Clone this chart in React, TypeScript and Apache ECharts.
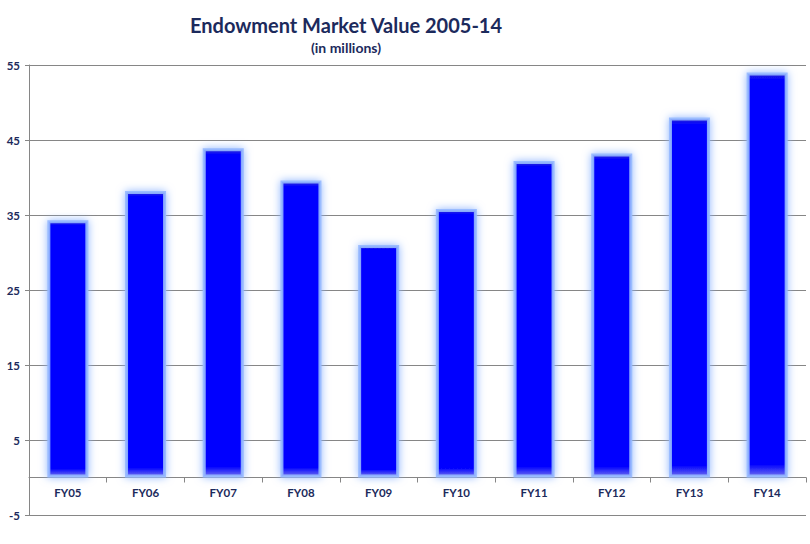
import React, { useEffect, useRef } from "react";
import * as echarts from "echarts";

const categories = ["FY05", "FY06", "FY07", "FY08", "FY09", "FY10", "FY11", "FY12", "FY13", "FY14"];
const values = [34.3, 38.2, 43.9, 39.6, 31.0, 35.8, 42.2, 43.2, 48.0, 54.0];
const titleText = "Endowment Market Value 2005-14";
const subtitleText = "(in millions)";

const NAVY = "#1c2a5c";
const FONT = "Lato, 'Open Sans', sans-serif";

export default function App() {
  const ref = useRef<HTMLDivElement>(null);
  useEffect(() => {
    document.body.style.margin = "0";
    const chart = echarts.init(ref.current!, null, { renderer: "svg" });
    chart.setOption({
      animation: false,
      backgroundColor: "#ffffff",
      title: [
        {
          text: titleText,
          left: 341,
          textAlign: "center",
          top: 10,
          textStyle: { fontFamily: FONT, fontSize: 20, fontWeight: "bold", color: NAVY },
        },
        {
          text: subtitleText,
          left: 341,
          textAlign: "center",
          top: 35,
          textStyle: { fontFamily: FONT, fontSize: 14, fontWeight: "bold", color: NAVY },
        },
      ],
      grid: { left: 29, right: 4, top: 65, bottom: 29, containLabel: false },
      xAxis: {
        type: "category",
        data: categories,
        offset: -37.5,
        axisLine: { show: true, onZero: false, lineStyle: { color: "#868686", width: 1 } },
        axisTick: { show: true, length: 5, lineStyle: { color: "#868686" } },
        axisLabel: { fontFamily: FONT, fontSize: 11.5, fontWeight: "bold", color: NAVY, margin: 9 },
      },
      yAxis: {
        type: "value",
        min: -5,
        max: 55,
        interval: 10,
        axisLine: { show: true, lineStyle: { color: "#868686", width: 1 } },
        axisTick: { show: true, length: 4, lineStyle: { color: "#868686" } },
        splitLine: { show: true, lineStyle: { color: "#868686", width: 1 } },
        axisLabel: { fontFamily: FONT, fontSize: 11.5, fontWeight: "bold", color: NAVY, margin: 9 },
      },
      series: [
        {
          type: "bar",
          data: values,
          barWidth: 41,
          itemStyle: {
            color: new echarts.graphic.LinearGradient(0, 0, 0, 1, [
              { offset: 0, color: "#2a2ad8" },
              { offset: 0.015, color: "#0000ff" },
              { offset: 0.97, color: "#0000ff" },
              { offset: 1, color: "#6a6af0" },
            ]),
            borderColor: "rgba(150,185,255,0.9)",
            borderWidth: 3,
            shadowColor: "rgba(140,180,255,1)",
            shadowBlur: 8,
          },
        },
      ],
    });
    return () => chart.dispose();
  }, []);
  return <div ref={ref} style={{ position: "absolute", left: 0, top: 0, width: 810, height: 544 }} />;
}
